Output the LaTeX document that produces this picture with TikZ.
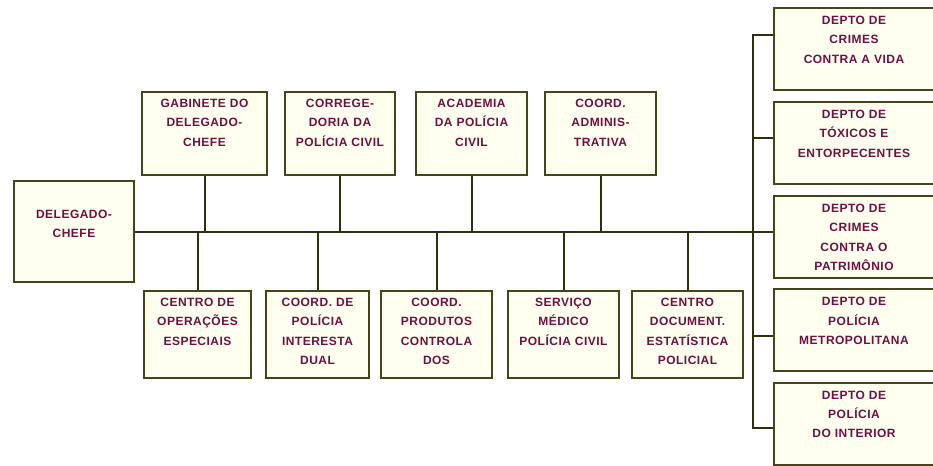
\documentclass[tikz,border=0pt]{standalone}
\usepackage{fontspec}
\setsansfont{Liberation Sans}[LetterSpace=4]
\usetikzlibrary{positioning}
\definecolor{clrborder}{HTML}{45451A}
\definecolor{clrline}{HTML}{2F2F10}
\definecolor{clrfill}{HTML}{FFFFF0}
\definecolor{clrtext}{HTML}{6E1040}

\begin{document}
\begin{tikzpicture}[
    x=0.75pt, y=-0.75pt,
    every node/.style={font=\sffamily\bfseries\fontsize{9}{14.6}\selectfont},
    orgbox/.style={draw=clrborder, fill=clrfill, line width=1.5pt, align=center,
                   text=clrtext, inner sep=0pt},
    chiefbox/.style={orgbox, text width=90pt, text height=28.1pt, text depth=47.65pt},
    topbox/.style={orgbox, text height=11.6pt, text depth=50.65pt},
    lowbox/.style={orgbox, text height=11.6pt, text depth=53.65pt},
    deptbox/.style={orgbox, text width=120pt, text height=12.25pt, text depth=49.25pt},
    link/.style={draw=clrline, line width=1.5pt},
]
\useasboundingbox (0,0) rectangle (933,465);
\clip (0,0) rectangle (933,465);
% chief
\node[chiefbox, anchor=north west] (chief) at (13,180) {DELEGADO-\\CHEFE};
% upper row
\node[topbox, text width=93.75pt, anchor=north west] (gab) at (141,91) {GABINETE DO\\DELEGADO-\\CHEFE};
\node[topbox, text width=82.5pt, right=12pt of gab] (corr) {CORREGE-\\DORIA DA\\POLÍCIA CIVIL};
\node[topbox, text width=83.25pt, right=14.25pt of corr] (acad) {ACADEMIA\\DA POLÍCIA\\CIVIL};
\node[topbox, text width=83.25pt, right=12pt of acad] (adm) {COORD.\\ADMINIS-\\TRATIVA};
% lower row
\node[lowbox, text width=80.25pt, anchor=north west] (cent) at (143,290) {CENTRO DE\\OPERAÇÕES\\ESPECIAIS};
\node[lowbox, text width=77.25pt, right=9.75pt of cent] (inter) {COORD. DE\\POLÍCIA\\INTERESTA\\DUAL};
\node[lowbox, text width=83.25pt, right=7.5pt of inter] (prod) {COORD.\\PRODUTOS\\CONTROLA\\DOS};
\node[lowbox, text width=83.25pt, right=10.5pt of prod] (med) {SERVIÇO\\MÉDICO\\POLÍCIA CIVIL};
\node[lowbox, text width=83.25pt, right=8.25pt of med] (doc) {CENTRO\\DOCUMENT.\\ESTATÍSTICA\\POLICIAL};
% departments
\node[deptbox, anchor=north west] (d1) at (773,7) {DEPTO DE\\CRIMES\\CONTRA A VIDA};
\node[deptbox, below=7.5pt of d1] (d2) {DEPTO DE\\TÓXICOS E\\ENTORPECENTES};
\node[deptbox, below=7.5pt of d2] (d3) {DEPTO DE\\CRIMES\\CONTRA O\\PATRIMÔNIO};
\node[deptbox, below=7pt of d3] (d4) {DEPTO DE\\POLÍCIA\\METROPOLITANA};
\node[deptbox, below=7pt of d4] (d5) {DEPTO DE\\POLÍCIA\\DO INTERIOR};
% connectors
\coordinate (s1) at (753,35);
\coordinate (s2) at (753,138);
\coordinate (s4) at (753,336);
\coordinate (s5) at (753,428);
\draw[link] (chief.east) -- (chief.east -| s1);
\draw[link] (gab.south) -- (gab.south |- chief.east);
\draw[link] (corr.south) -- (corr.south |- chief.east);
\draw[link] (acad.south) -- (acad.south |- chief.east);
\draw[link] (adm.south) -- (adm.south |- chief.east);
\draw[link] (cent.north) -- (cent.north |- chief.east);
\draw[link] (inter.north) -- (inter.north |- chief.east);
\draw[link] (prod.north) -- (prod.north |- chief.east);
\draw[link] (med.north) -- (med.north |- chief.east);
\draw[link] (doc.north) -- (doc.north |- chief.east);
\draw[link] (s1 -| d1.west) -- (s1) -- (s5) -- (s5 -| d5.west);
\draw[link] (s2) -- (s2 -| d2.west);
\draw[link] (chief.east -| s1) -- (chief.east -| d3.west);
\draw[link] (s4) -- (s4 -| d4.west);
\end{tikzpicture}
\end{document}
